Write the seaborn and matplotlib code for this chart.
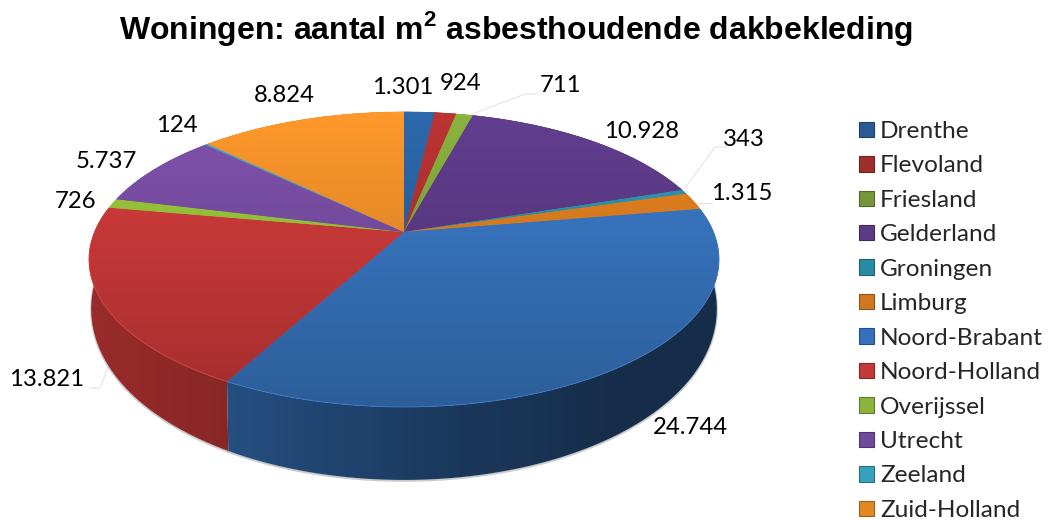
import numpy as np
import matplotlib
matplotlib.use("Agg")
import matplotlib.pyplot as plt
from matplotlib.colors import to_rgb
from matplotlib.patches import Polygon, Patch
import seaborn as sns

# ---- data ----
provinces = ["Drenthe", "Flevoland", "Friesland", "Gelderland", "Groningen", "Limburg",
             "Noord-Brabant", "Noord-Holland", "Overijssel", "Utrecht", "Zeeland", "Zuid-Holland"]
values = [1301, 924, 711, 10928, 343, 1315, 24744, 13821, 726, 5737, 124, 8824]
value_labels = ["1.301", "924", "711", "10.928", "343", "1.315",
                "24.744", "13.821", "726", "5.737", "124", "8.824"]
title = r"Woningen: aantal m$^{\mathbf{2}}$ asbesthoudende dakbekleding"

# ---- style ----
top_colors = ["#2B66A8", "#B83232", "#86AE3C", "#603C8C", "#2F97B0", "#E5821F",
              "#3A7AC8", "#D43C3C", "#9CCB3C", "#7C50A8", "#40A8C8", "#F8942A"]
legend_colors = ["#2A5A96", "#9E2E2C", "#76963A", "#5A3C84", "#2A8AA4", "#D07820",
                 "#3670BC", "#C43838", "#8AB43C", "#6C4A9C", "#38A0BC", "#E08824"]
label_xy = [(403, 87), (461, 84), (561, 85), (642, 131), (744, 140), (742, 194),
            (690, 428), (47, 380), (76, 201), (106, 161), (177, 125), (284, 96)]
leaders = [[(470, 115), (525, 94), (537, 94)],
           [(685, 188), (715, 147), (727, 147)],
           [(697, 203), (712, 203)],
           [(108, 367), (100, 388), (90, 388)]]
CX, CY = 404, 232
A, B, C = 142.4, 0.186, 309.5   # perspective of the disc


def project(x, y):
    w = 1 + B * y
    return CX + C * x / w, CY - A * y / w


def depth(y):
    return 44 - 29 * y


sns.set_theme(style="white")
plt.rcParams["font.family"] = ["Lato", "DejaVu Sans"]
plt.rcParams["mathtext.fontset"] = "custom"
plt.rcParams["mathtext.bf"] = "Liberation Sans:bold"
plt.rcParams["mathtext.rm"] = "Liberation Sans:bold"

fig = plt.figure(figsize=(10.48, 5.2), dpi=100)
ax = fig.add_axes([0, 0, 1, 1])
palette = sns.color_palette(top_colors)

# wedge angles come from matplotlib's pie
wedges, _ = ax.pie(values, startangle=90, counterclock=False, colors=palette)
spans = [(w.theta1, w.theta2) for w in wedges]
for w in wedges:
    w.remove()
ax.set_aspect("auto")
ax.set_xlim(0, 1048)
ax.set_ylim(520, 0)
ax.axis("off")

# side wall: horizontal gradient clipped to each wedge's strip
shade_x = [90, 232, 440, 620, 720]
shade_f = [0.72, 0.64, 0.47, 0.37, 0.37]
gx = np.linspace(80, 730, 200)
gf = np.interp(gx, shade_x, shade_f)
for (t1, t2), col in zip(spans, palette):
    ang = np.radians(np.linspace(t1, t2, max(int(t2 - t1) * 2, 2) + 1))
    ux, uy = np.cos(ang), np.sin(ang)
    px, py = project(ux, uy)
    bx = CX + (px - CX) * 0.993
    by = py + depth(uy)
    pts = np.vstack([np.column_stack([px, py]), np.column_stack([bx, by])[::-1]])
    ax.plot(bx, by + 0.8, color="#999999", lw=1.6, alpha=0.5, zorder=1.5)
    poly = Polygon(pts, closed=True, facecolor="none", edgecolor="none", zorder=2)
    ax.add_patch(poly)
    img = gf[None, :, None] * np.array(col)[None, None, :]
    im = ax.imshow(img, extent=(80, 730, 490, 100), aspect="auto", interpolation="bilinear", zorder=2)
    im.set_clip_path(poly)

# top face with vertical gradient
extent = (60, 750, 420, 100)
for (t1, t2), col in zip(spans, palette):
    ang = np.radians(np.linspace(t1, t2, max(int(t2 - t1) * 2, 2) + 1))
    px, py = project(np.cos(ang), np.sin(ang))
    pts = np.vstack([[CX, CY], np.column_stack([px, py])])
    poly = Polygon(pts, closed=True, facecolor=col, edgecolor=col, lw=0.4, zorder=3)
    ax.add_patch(poly)
    c = np.array(to_rgb(col))
    grad = np.linspace(1.04, 0.76, 64)[:, None, None] * c[None, None, :]
    im = ax.imshow(np.clip(grad, 0, 1), extent=extent, aspect="auto", interpolation="bilinear", zorder=3.1)
    im.set_clip_path(poly)
    front = np.sin(ang) < -0.1
    if front.any():
        ax.plot(px[front], py[front], color=tuple(np.clip(c + 0.05, 0, 1)), lw=0.8, alpha=0.45, zorder=3.2)

ax.set_xlim(0, 1048)
ax.set_ylim(520, 0)

# leader lines
for pts in leaders:
    xs, ys = zip(*pts)
    ax.plot(xs, ys, color="#E4E4E4", lw=0.8, zorder=1)

# labels
for (x, y), s in zip(label_xy, value_labels):
    ax.text(x, y, s, ha="center", va="center", fontsize=17.2, color="black", zorder=5)

ax.text(516, 29, title, ha="center", va="center", fontsize=23,
        fontweight="bold", family=["Liberation Sans"], color="black")

# legend
handles = [Patch(facecolor=c, edgecolor=tuple(np.array(to_rgb(c)) * 0.7), lw=0.8) for c in legend_colors]
ax.legend(handles, provinces, loc="upper left", bbox_to_anchor=(859 / 1048, 1 - 121 / 520),
          bbox_transform=fig.transFigure, frameon=False, fontsize=17.6, handlelength=0.6, handleheight=0.6,
          handletextpad=0.26, labelspacing=0.55, borderaxespad=0, borderpad=0)

fig.savefig("out.png", dpi=100, facecolor="white")
